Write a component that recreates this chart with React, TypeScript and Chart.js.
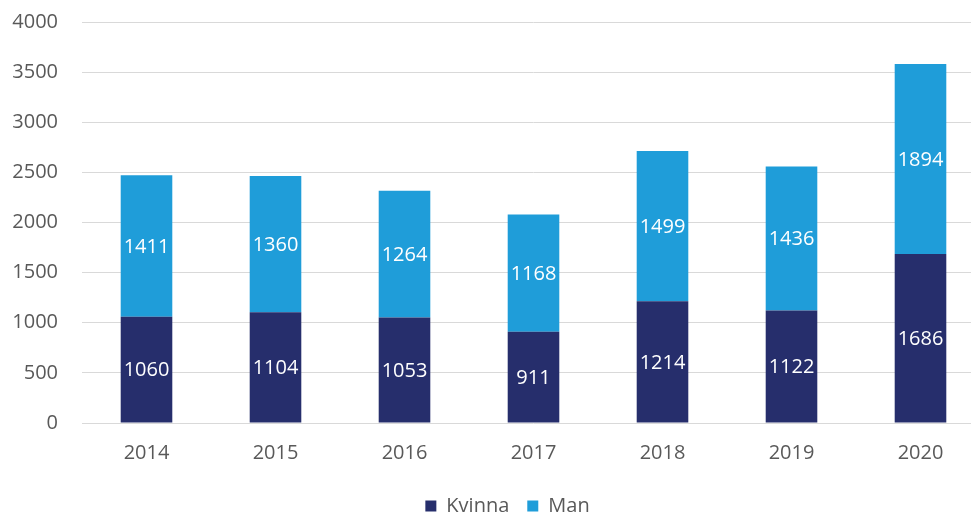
import React, { useEffect, useRef } from "react";
import { Chart, registerables } from "chart.js";

Chart.register(...registerables);

const years = ["2014", "2015", "2016", "2017", "2018", "2019", "2020"];
const kvinna = [1060, 1104, 1053, 911, 1214, 1122, 1686];
const man = [1411, 1360, 1264, 1168, 1499, 1436, 1894];
const yTicks = [0, 500, 1000, 1500, 2000, 2500, 3000, 3500, 4000];

const FONT = "'Open Sans', 'Liberation Sans', sans-serif";

const valueLabels = {
  id: "valueLabels",
  afterDatasetsDraw(chart: any) {
    const ctx = chart.ctx;
    ctx.save();
    ctx.fillStyle = "#ffffff";
    ctx.font = `20px ${FONT}`;
    ctx.textAlign = "center";
    ctx.textBaseline = "middle";
    chart.data.datasets.forEach((ds: any, di: number) => {
      const meta = chart.getDatasetMeta(di);
      meta.data.forEach((bar: any, i: number) => {
        const { x, y, base } = bar.getProps(["x", "y", "base"], true);
        ctx.fillText(String(ds.data[i]), x, (y + base) / 2 + 1);
      });
    });
    ctx.restore();
  },
};

const shiftLegend = {
  id: "shiftLegend",
  afterLayout(chart: any) {
    if (chart.legend) {
      chart.legend.left += 15;
      chart.legend.right += 15;
    }
  },
};

export default function App() {
  const ref = useRef<HTMLCanvasElement>(null);
  useEffect(() => {
    if (!ref.current) return;
    const chart = new Chart(ref.current, {
      type: "bar",
      data: {
        labels: years,
        datasets: [
          { label: "Kvinna", data: kvinna, backgroundColor: "#262e6c", barPercentage: 0.4, categoryPercentage: 1 },
          { label: "Man", data: man, backgroundColor: "#1f9dd9", barPercentage: 0.4, categoryPercentage: 1 },
        ],
      },
      options: {
        animation: false,
        responsive: false,
        maintainAspectRatio: false,
        layout: { padding: { top: 0, right: 29, left: 0, bottom: 0 } },
        plugins: {
          legend: {
            position: "bottom",
            labels: {
              boxWidth: 11,
              boxHeight: 11,
              padding: 18,
              color: "#595959",
              font: { family: FONT, size: 20 },
            },
          },
          tooltip: { enabled: false },
        },
        scales: {
          x: {
            stacked: true,
            grid: { display: false },
            border: { display: false },
            ticks: { color: "#595959", font: { family: FONT, size: 20 }, padding: 10 },
            afterFit(s: any) { s.height = 55; },
          },
          y: {
            stacked: true,
            min: 0,
            max: 4000,
            afterBuildTicks(s: any) { s.ticks = yTicks.map((v) => ({ value: v })); },
            grid: { color: "#d9d9d9", lineWidth: 1, drawTicks: false },
            border: { display: false },
            ticks: {
              color: "#595959",
              font: { family: FONT, size: 20 },
              padding: 24,
              callback: (v: any) => String(v),
            },
            afterFit(s: any) {
              s.width = 82;
              s.paddingTop = 22;
              s.paddingBottom = 0;
            },
          },
        },
      },
      plugins: [valueLabels, shiftLegend],
    });
    return () => chart.destroy();
  }, []);
  return (
    <div style={{ position: "fixed", left: 0, top: 0, width: 971, height: 513, overflow: "hidden", background: "#fff" }}>
      <canvas ref={ref} width={1014} height={526} style={{ width: 1014, height: 526, display: "block" }} />
    </div>
  );
}
